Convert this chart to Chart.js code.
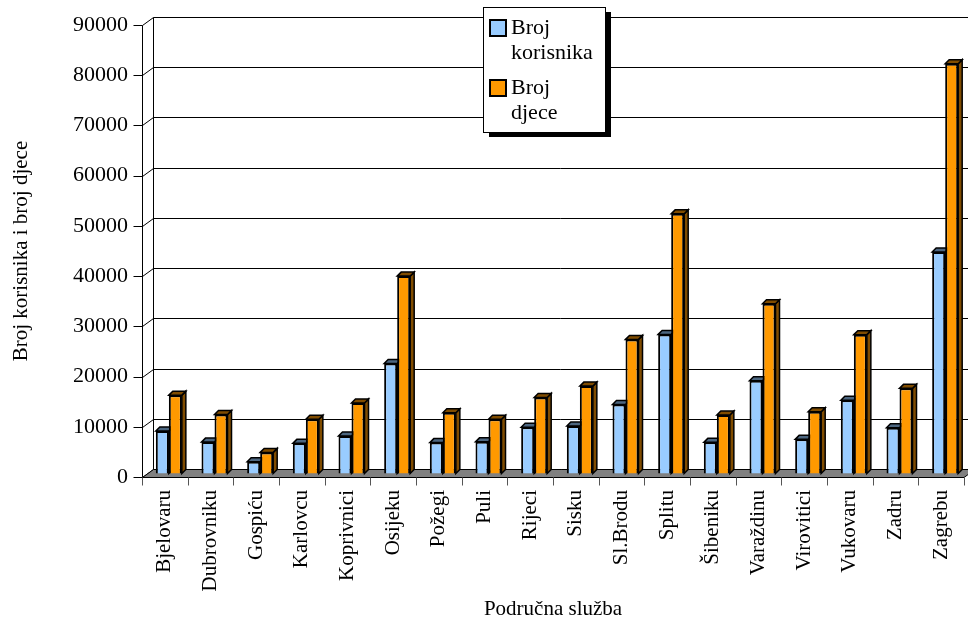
<!DOCTYPE html>
<html>
<head>
<meta charset="utf-8">
<script src="https://cdn.jsdelivr.net/npm/chart.js@4.4.0/dist/chart.umd.min.js"></script>
<style>
  html, body { margin: 0; padding: 0; background: #fff; }
  #wrap { width: 968px; height: 622px; position: relative; }
</style>
</head>
<body>
<div id="wrap"><canvas id="graf"></canvas></div>
<script>
// Podaci po područnim službama
const sluzbe = ['Bjelovaru', 'Dubrovniku', 'Gospiću', 'Karlovcu', 'Koprivnici', 'Osijeku', 'Požegi', 'Puli', 'Rijeci',
    'Sisku', 'Sl.Brodu', 'Splitu', 'Šibeniku', 'Varaždinu', 'Virovitici', 'Vukovaru', 'Zadru', 'Zagrebu'];
const brojKorisnika = [8550, 6350, 2450, 6100, 7550, 22000, 6250, 6400, 9300, 9550, 13850, 27800, 6300, 18550, 6900, 14700, 9200, 44200];
const brojDjece = [15700, 11850, 4300, 10900, 14150, 39400, 12200, 10900, 15250, 17500, 26800, 51800, 11750, 33900, 12400, 27750, 17050, 81700];
const nazivi = ['Broj korisnika', 'Broj djece'];
const yOznake = [0, 10000, 20000, 30000, 40000, 50000, 60000, 70000, 80000, 90000];

const boje = ['#99CCFF', '#FF9900'];
const bojeTamne = ['#4C6680', '#804C00'];
const FONT = '"Liberation Serif", "Times New Roman", serif';

const DUB = 4;                 // dubina stupca
const POMAK = { x: 4, y: -3 }; // stupci malo prema natrag
const ZID = { x: 11, y: -8 };  // stražnji zid

// 3D pod, zid i stranice stupaca
const prostor3d = {
    id: 'prostor3d',
    beforeDatasetsDraw(chart) {
        const { ctx, chartArea: a, scales: { x, y } } = chart;
        const y0 = Math.round(y.getPixelForValue(0)) + 0.5;
        const lx = Math.round(a.left) + 0.5;
        ctx.save();
        ctx.lineWidth = 1;
        ctx.strokeStyle = '#000';

        // linije mreže na stražnjem zidu i kose crte
        yOznake.forEach(v => {
            const py = Math.round(y.getPixelForValue(v)) + 0.5;
            ctx.beginPath();
            ctx.moveTo(lx + ZID.x, py + ZID.y);
            ctx.lineTo(chart.width, py + ZID.y);
            ctx.moveTo(lx, py);
            ctx.lineTo(lx + ZID.x, py + ZID.y);
            ctx.moveTo(lx - 9, py);
            ctx.lineTo(lx, py);
            ctx.stroke();
        });
        // stražnji zid - okomita
        ctx.beginPath();
        ctx.moveTo(lx + ZID.x, Math.round(y.getPixelForValue(90000)) + 0.5 + ZID.y);
        ctx.lineTo(lx + ZID.x, y0 + ZID.y);
        ctx.stroke();

        // pod
        ctx.beginPath();
        ctx.moveTo(lx, y0);
        ctx.lineTo(a.right, y0);
        ctx.lineTo(a.right + ZID.x, y0 + ZID.y);
        ctx.lineTo(lx + ZID.x, y0 + ZID.y);
        ctx.closePath();
        ctx.fillStyle = '#808080';
        ctx.fill();
        ctx.stroke();

        // prednja os y
        ctx.beginPath();
        ctx.moveTo(lx, Math.round(y.getPixelForValue(90000)) + 0.5);
        ctx.lineTo(lx, y0);
        ctx.stroke();

        // crtice na osi x
        const korak = (a.right - a.left) / sluzbe.length;
        ctx.strokeStyle = '#555';
        ctx.beginPath();
        for (let i = 0; i <= sluzbe.length; i++) {
            const px = Math.round(a.left + i * korak) + 0.5;
            ctx.moveTo(px, y0);
            ctx.lineTo(px, y0 + 8);
        }
        ctx.stroke();
        ctx.restore();

        // stranice stupaca
        ctx.save();
        ctx.translate(POMAK.x, POMAK.y);
        ctx.lineWidth = 1.5;
        ctx.strokeStyle = '#000';
        chart.data.datasets.forEach((ds, i) => {
            chart.getDatasetMeta(i).data.forEach(bar => {
                const p = bar.getProps(['x', 'y', 'base', 'width'], true);
                const l = p.x - p.width / 2, r = p.x + p.width / 2;
                ctx.fillStyle = bojeTamne[i];
                ctx.beginPath();
                ctx.moveTo(r, p.y);
                ctx.lineTo(r + DUB, p.y - DUB);
                ctx.lineTo(r + DUB, p.base - DUB);
                ctx.lineTo(r, p.base);
                ctx.closePath();
                ctx.fill();
                ctx.stroke();
                ctx.beginPath();
                ctx.moveTo(l, p.y);
                ctx.lineTo(l + DUB, p.y - DUB);
                ctx.lineTo(r + DUB, p.y - DUB);
                ctx.lineTo(r, p.y);
                ctx.closePath();
                ctx.fill();
                ctx.stroke();
            });
        });
    },
    afterDatasetsDraw(chart) {
        chart.ctx.restore();
    }
};

// legenda u okviru sa sjenom
const legenda = {
    id: 'legenda',
    afterDraw(chart) {
        const ctx = chart.ctx;
        const bx = 483, by = 7, bw = 122, bh = 125;
        ctx.save();
        ctx.fillStyle = '#000';
        ctx.fillRect(bx + 6, by + 5, bw, bh);
        ctx.fillStyle = '#fff';
        ctx.fillRect(bx, by, bw, bh);
        ctx.strokeStyle = '#000';
        ctx.lineWidth = 1;
        ctx.strokeRect(bx + 0.5, by + 0.5, bw, bh);
        ctx.font = '22px ' + FONT;
        ctx.textBaseline = 'middle';
        chart.data.datasets.forEach((ds, i) => {
            const top = 28 + i * 60;
            ctx.fillStyle = ds.backgroundColor;
            ctx.fillRect(490, top - 8, 16, 16);
            ctx.lineWidth = 2;
            ctx.strokeRect(490, top - 8, 16, 16);
            ctx.fillStyle = '#000';
            const rijeci = ds.label.split(' ');
            ctx.fillText(rijeci[0], 511, top);
            ctx.fillText(rijeci.slice(1).join(' '), 511, top + 25);
        });
        ctx.restore();
    }
};

const ctx = document.getElementById('graf').getContext('2d');
const graf = new Chart(ctx, {
    type: 'bar',
    data: {
        labels: sluzbe,
        datasets: [{
            label: nazivi[0],
            data: brojKorisnika,
            backgroundColor: boje[0],
            borderColor: '#000',
            borderWidth: 2
        }, {
            label: nazivi[1],
            data: brojDjece,
            backgroundColor: boje[1],
            borderColor: '#000',
            borderWidth: 2
        }]
    },
    options: {
        responsive: true,
        maintainAspectRatio: false,
        animation: false,
        categoryPercentage: 0.57,
        barPercentage: 1.0,
        layout: { padding: { left: 0, right: 4, top: 25, bottom: 0 } },
        plugins: {
            legend: { display: false },
            tooltip: { enabled: false }
        },
        scales: {
            x: {
                ticks: {
                    color: '#000',
                    font: { family: FONT, size: 21 },
                    minRotation: 90,
                    maxRotation: 90,
                    autoSkip: false,
                    padding: 5
                },
                grid: { display: true, drawOnChartArea: false, color: 'rgba(0,0,0,0)', tickLength: 8 },
                border: { display: false },
                title: {
                    display: true,
                    text: 'Područna služba',
                    color: '#000',
                    font: { family: FONT, size: 21 },
                    padding: { top: 0, bottom: 0 }
                },
                afterFit(s) {
                    s.height = 145;
                    s.paddingLeft = 0;
                    s.paddingRight = 0;
                }
            },
            y: {
                min: 0,
                max: 90000,
                ticks: {
                    stepSize: 10000,
                    color: '#000',
                    font: { family: FONT, size: 22 },
                    padding: 6,
                    callback: v => String(v)
                },
                grid: { display: true, drawOnChartArea: false, color: 'rgba(0,0,0,0)', tickLength: 8 },
                border: { display: false },
                title: {
                    display: true,
                    text: 'Broj korisnika i broj djece',
                    color: '#000',
                    font: { family: FONT, size: 21 },
                    padding: { top: 9, bottom: 0 }
                },
                afterFit(s) {
                    s.width = 142;
                }
            }
        }
    },
    plugins: [prostor3d, legenda]
});
</script>
</body>
</html>
